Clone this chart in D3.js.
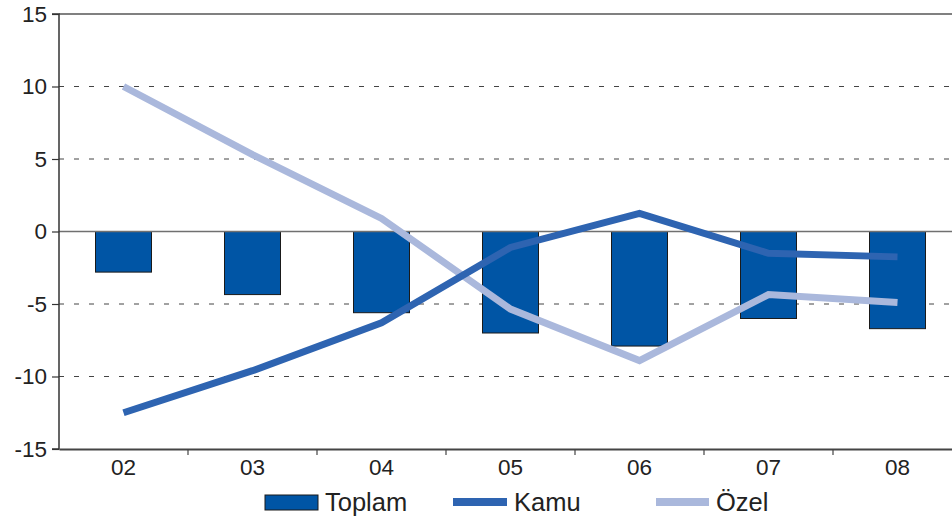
<!DOCTYPE html>
<html>
<head>
<meta charset="utf-8">
<script src="https://cdn.jsdelivr.net/npm/d3@7"></script>
<style>
  body { margin: 0; background: #fff; }
  svg text { font-family: "Liberation Sans", Arial, sans-serif; fill: #222; }
</style>
</head>
<body>
<svg id="chart" width="952" height="517"></svg>
<script>
  // Data
  const categories = ["02", "03", "04", "05", "06", "07", "08"];
  const toplam = [-2.8, -4.35, -5.6, -7.0, -7.9, -6.0, -6.7];
  const kamu = [-12.5, -9.6, -6.3, -1.1, 1.25, -1.5, -1.75];
  const ozel = [10.0, 5.3, 0.9, -5.35, -8.9, -4.35, -4.9];
  const yTicks = [15, 10, 5, 0, -5, -10, -15];

  (function () {
    const colors = { toplam: "#0055a5", kamu: "#2e64b1", ozel: "#aab8dc" };

    const svg = d3.select("#chart");
    const plotLeft = 59, plotRight = 962, plotTop = 14, plotBottom = 449;

    const x = d3.scaleBand().domain(categories).range([plotLeft, plotRight]);
    const y = d3.scaleLinear().domain([-15, 15]).range([plotBottom, plotTop]);

    // Gridlines
    svg.append("g")
      .selectAll("line")
      .data(yTicks.filter(d => d !== 0 && d !== 15 && d !== -15))
      .join("line")
      .attr("x1", plotLeft).attr("x2", plotRight)
      .attr("y1", d => y(d)).attr("y2", d => y(d))
      .attr("stroke", "#444")
      .attr("stroke-width", 1)
      .attr("stroke-dasharray", "5,10");

    // Top border line at 15
    svg.append("line")
      .attr("x1", plotLeft).attr("x2", plotRight)
      .attr("y1", y(15)).attr("y2", y(15))
      .attr("stroke", "#808080").attr("stroke-width", 2);

    // Bars
    const barW = 56;
    svg.append("g")
      .selectAll("rect")
      .data(toplam)
      .join("rect")
      .attr("x", (d, i) => x(categories[i]) + x.bandwidth() / 2 - barW / 2)
      .attr("y", d => y(Math.max(0, d)))
      .attr("width", barW)
      .attr("height", d => Math.abs(y(d) - y(0)))
      .attr("fill", colors.toplam)
      .attr("stroke", "#1a1a1a")
      .attr("stroke-width", 1);

    // Zero line
    svg.append("line")
      .attr("x1", plotLeft).attr("x2", plotRight)
      .attr("y1", y(0)).attr("y2", y(0))
      .attr("stroke", "#707070").attr("stroke-width", 1.5);

    // Lines
    const line = d3.line()
      .x((d, i) => x(categories[i]) + x.bandwidth() / 2)
      .y(d => y(d));

    svg.append("path")
      .datum(ozel)
      .attr("d", line)
      .attr("fill", "none")
      .attr("stroke", colors.ozel)
      .attr("stroke-width", 7);

    svg.append("path")
      .datum(kamu)
      .attr("d", line)
      .attr("fill", "none")
      .attr("stroke", colors.kamu)
      .attr("stroke-width", 7);

    // Y axis
    const yAxis = d3.axisLeft(y).tickValues(yTicks).tickFormat(d => String(d))
      .tickSize(7).tickPadding(5);
    const gy = svg.append("g").attr("transform", `translate(${plotLeft},0)`).call(yAxis);
    gy.select(".domain").attr("stroke", "#333").attr("stroke-width", 1.5)
      .attr("d", `M-7,${plotTop}H0V${plotBottom}H-7`);
    gy.selectAll(".tick line").attr("stroke", "#333").attr("stroke-width", 1.2);
    gy.selectAll(".tick text").style("font-size", "22.5px").attr("fill", "#222");

    // X axis
    const xAxis = d3.axisBottom(x).tickSize(0).tickPadding(10);
    const gx = svg.append("g").attr("transform", `translate(0,${plotBottom})`).call(xAxis);
    gx.select(".domain").attr("stroke", "#444").attr("stroke-width", 2);
    gx.selectAll(".tick text").style("font-size", "22.5px").attr("fill", "#222");
    gx.append("g")
      .selectAll("line")
      .data(categories.slice(1))
      .join("line")
      .attr("x1", d => x(d)).attr("x2", d => x(d))
      .attr("y1", 0).attr("y2", 6)
      .attr("stroke", "#444").attr("stroke-width", 1.2);

    // Legend
    const legend = svg.append("g");
    legend.append("rect")
      .attr("x", 265).attr("y", 495).attr("width", 53).attr("height", 15)
      .attr("fill", colors.toplam).attr("stroke", "#1a1a1a");
    legend.append("text").attr("x", 325).attr("y", 511).text("Toplam").style("font-size", "25.5px");

    legend.append("line")
      .attr("x1", 453).attr("x2", 507).attr("y1", 502).attr("y2", 502)
      .attr("stroke", colors.kamu).attr("stroke-width", 8);
    legend.append("text").attr("x", 514).attr("y", 511).text("Kamu").style("font-size", "25.5px");

    legend.append("line")
      .attr("x1", 656).attr("x2", 709).attr("y1", 502).attr("y2", 502)
      .attr("stroke", colors.ozel).attr("stroke-width", 8);
    legend.append("text").attr("x", 716).attr("y", 511).text("Özel").style("font-size", "25.5px");
  })();
</script>
</body>
</html>
